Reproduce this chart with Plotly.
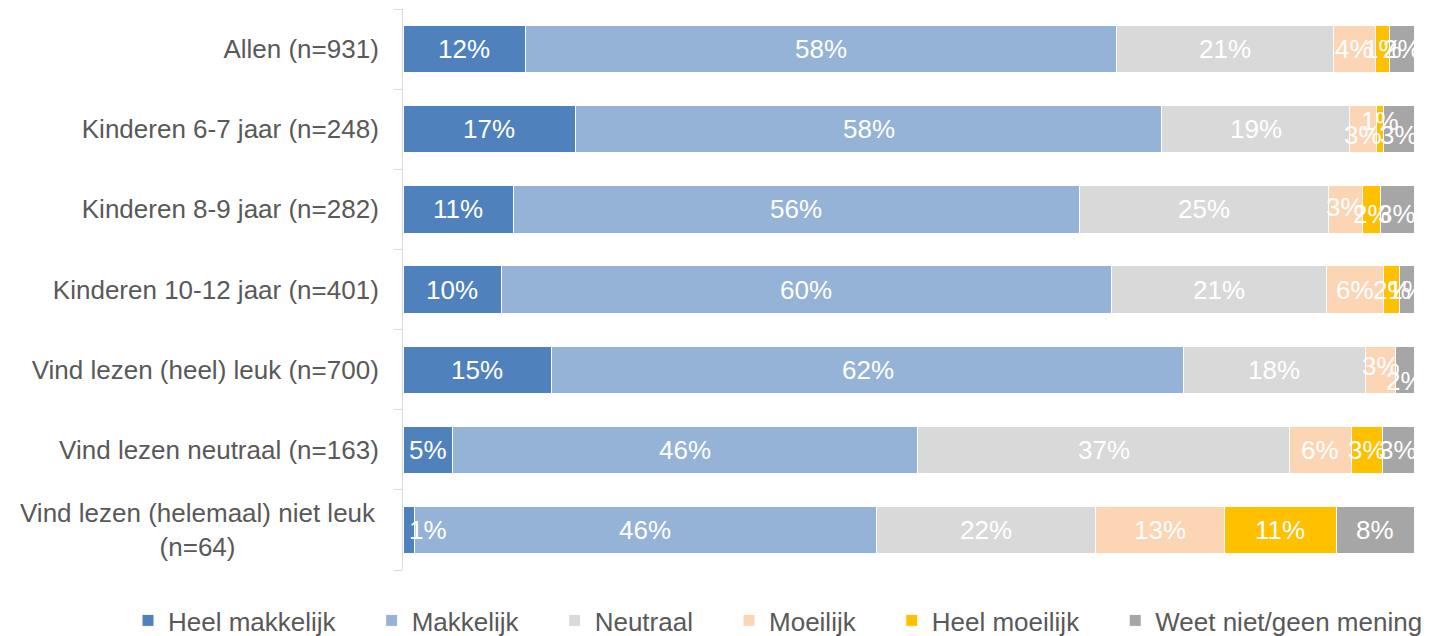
import plotly.graph_objects as go

categories = [
    "Allen (n=931)",
    "Kinderen 6-7 jaar (n=248)",
    "Kinderen 8-9 jaar (n=282)",
    "Kinderen 10-12 jaar (n=401)",
    "Vind lezen (heel) leuk (n=700)",
    "Vind lezen neutraal (n=163)",
    "Vind lezen (helemaal) niet leuk<br>(n=64)",
]

series_names = ["Heel makkelijk", "Makkelijk", "Neutraal", "Moeilijk", "Heel moeilijk", "Weet niet/geen mening"]

heel_makkelijk = [12.1, 17.1, 10.9, 9.7, 14.7, 4.9, 1.1]
makkelijk = [58.4, 58.1, 56.0, 60.4, 62.4, 46.0, 45.8]
neutraal = [21.4, 18.6, 24.6, 21.2, 18.0, 36.8, 21.7]
moeilijk = [4.2, 2.7, 3.4, 5.7, 3.0, 6.1, 12.7]
heel_moeilijk = [1.4, 0.7, 1.8, 1.6, 0.0, 3.1, 11.1]
weet_niet = [2.4, 3.0, 3.3, 1.4, 1.8, 3.1, 7.7]

series_values = [heel_makkelijk, makkelijk, neutraal, moeilijk, heel_moeilijk, weet_niet]
colors = ["#4f81bd", "#95b3d7", "#d9d9d9", "#fcd5b5", "#ffc000", "#a6a6a6"]

# label nudges (style only): (category index, series index) -> pixels
label_yshift = {(1, 3): 6, (1, 4): -8, (1, 5): 6,
                (2, 3): -2, (2, 4): 5, (2, 5): 5,
                (4, 3): -4, (4, 5): 11}
label_xshift = {(6, 0): 19}

FONT = "Liberation Sans, Arial, sans-serif"
SPACER = "\u00a0" * 4 + "\u200a"
totals = [sum(s[i] for s in series_values) for i in range(len(categories))]

fig = go.Figure()
annotations = []
cum = [0.0] * len(categories)
n_series = len(series_names)
for si, (name, vals, col) in enumerate(zip(series_names, series_values, colors)):
    xs = [v / t * 100 for v, t in zip(vals, totals)]
    legend_name = name + (SPACER if si < n_series - 1 else "")
    fig.add_trace(go.Bar(
        name=legend_name, y=categories, x=xs, orientation="h",
        marker=dict(color=col, line=dict(color="white", width=1)),
        hovertemplate=name + ": %{x:.1f}%<extra></extra>",
    ))
    for ci, (v, x) in enumerate(zip(vals, xs)):
        if v > 0:
            annotations.append(dict(
                x=cum[ci] + x / 2, y=categories[ci], xref="x", yref="y",
                text=f"{v:.0f}%", showarrow=False,
                font=dict(family=FONT, size=26, color="white"),
                yshift=-label_yshift.get((ci, si), 0),
                xshift=label_xshift.get((ci, si), 0),
            ))
        cum[ci] += x

ticktext = [c if "<br>" not in c else "" for c in categories]
annotations.append(dict(
    x=0, xref="paper", y=categories[-1], yref="y", xanchor="right", xshift=-25,
    text=categories[-1], align="center", showarrow=False,
    font=dict(family=FONT, size=26, color="#595959"),
))

fig.update_layout(
    barmode="stack",
    bargap=0.41,
    width=1426, height=628,
    margin=dict(l=395, r=20, t=1, b=66, autoexpand=False),
    plot_bgcolor="white", paper_bgcolor="white",
    font=dict(family=FONT, size=26, color="#595959"),
    xaxis=dict(visible=False, range=[0, 100], fixedrange=True),
    yaxis=dict(
        categoryorder="array", categoryarray=categories, autorange="reversed",
        tickmode="array", tickvals=categories, ticktext=ticktext,
        showline=True, linecolor="#d9d9d9", linewidth=1,
        ticks="outside", tickson="boundaries", ticklen=8, tickcolor="#d9d9d9",
        ticklabelstandoff=18, showgrid=False,
        tickfont=dict(family=FONT, size=26, color="#595959"),
    ),
    legend=dict(
        orientation="h", xref="paper", x=-0.272, xanchor="left",
        y=-0.09, yanchor="middle", traceorder="normal",
        font=dict(family=FONT, size=26, color="#595959"),
        itemwidth=30,
    ),
    annotations=annotations,
    showlegend=True,
)

fig.write_html("out.html")
